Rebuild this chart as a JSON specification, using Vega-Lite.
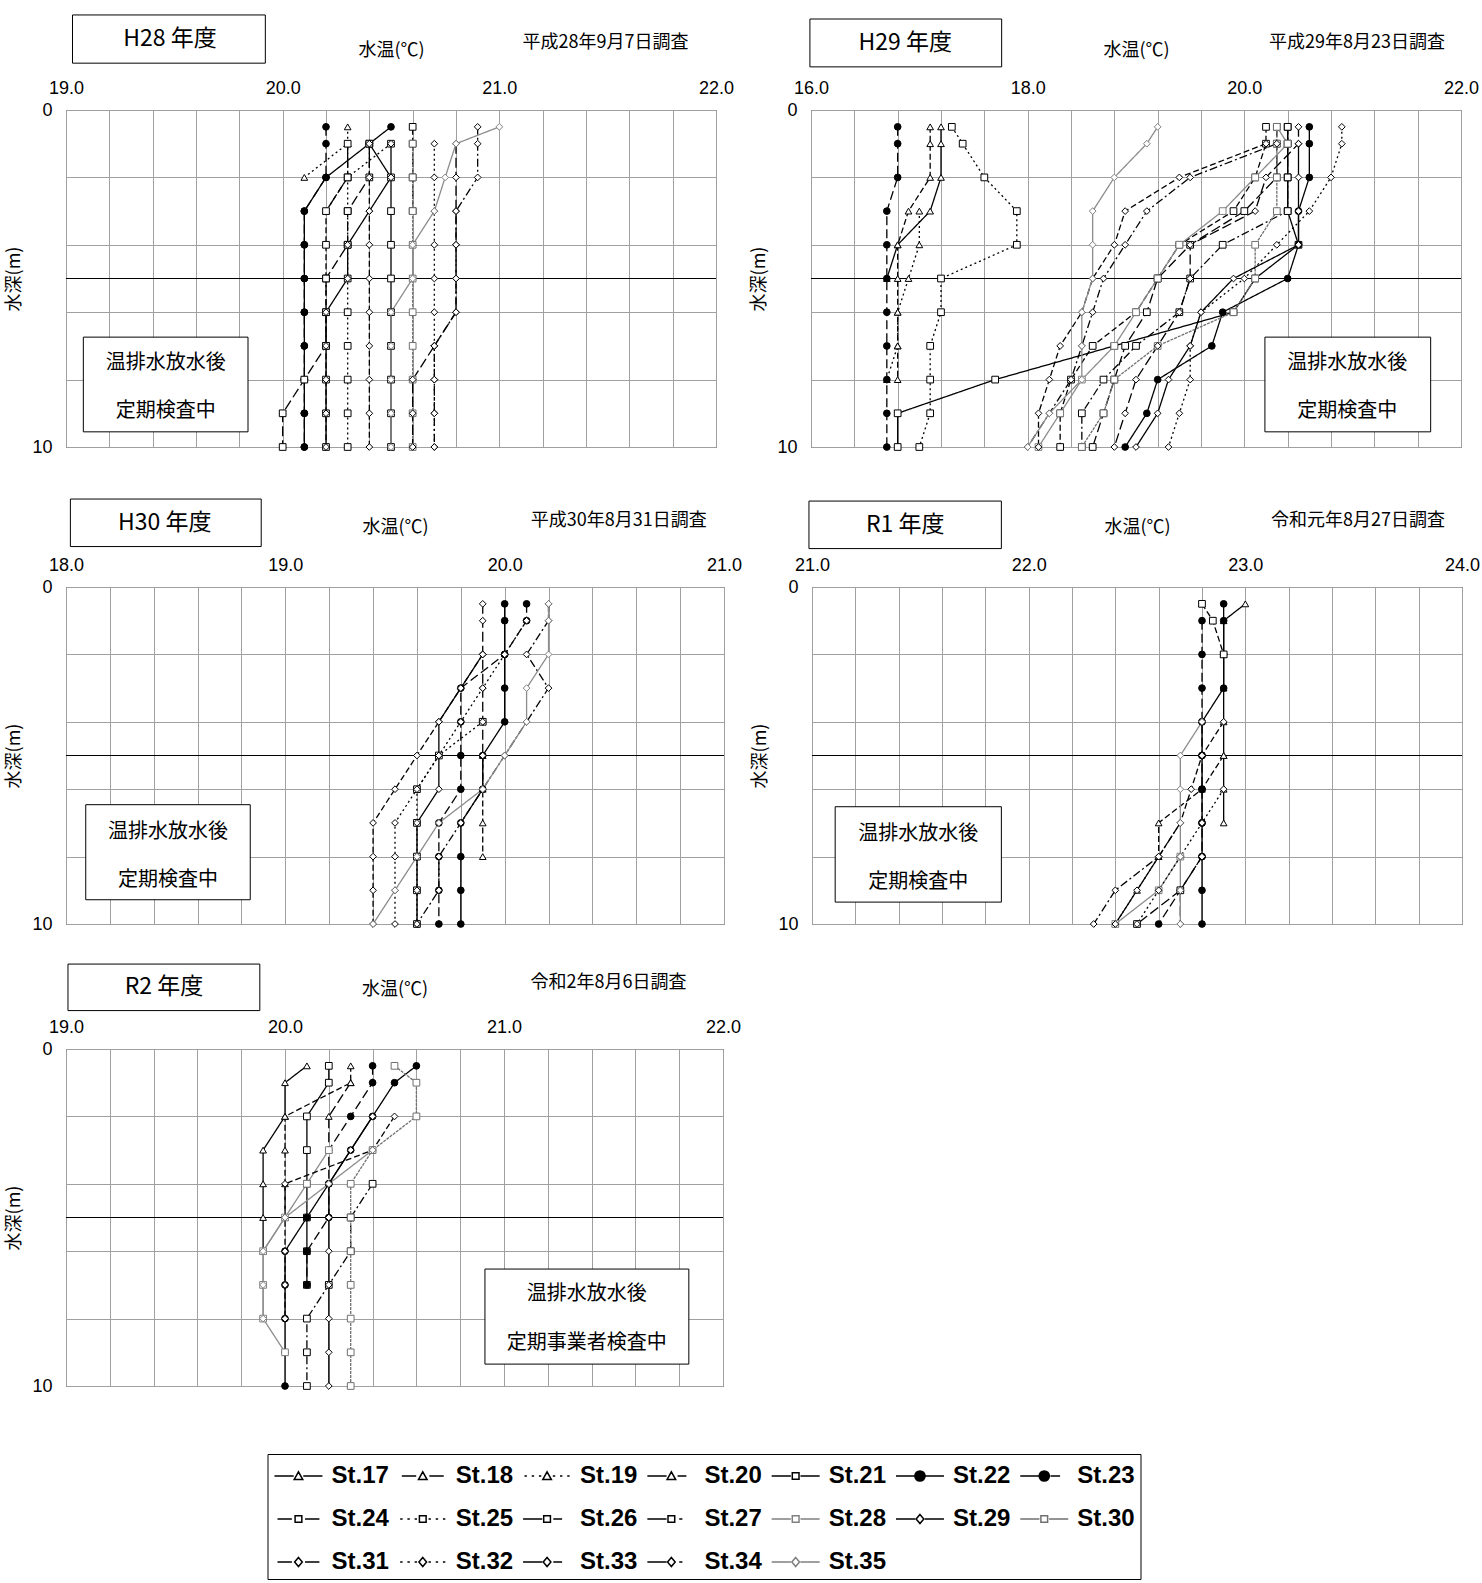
{
"$schema": "https://vega.github.io/schema/vega-lite/v6.json",
"background": "white",
"padding": {"left": 5, "top": 13, "right": 0, "bottom": 0},
"config": {
  "view": {"stroke": "#404040", "strokeWidth": 1},
  "axis": {"labelFont": "Liberation Sans", "labelFontSize": 18, "labelColor": "#000", "titleFont": "Noto Sans CJK JP", "titleFontSize": 18, "titleFontWeight": "normal", "titleColor": "#000", "gridColor": "#a0a0a0", "gridOpacity": 1, "gridWidth": 1, "ticks": false, "domain": false, "labelFlush": false, "labelOverlap": false},
  "text": {"font": "Noto Sans CJK JP", "color": "#000"}
},
"datasets": {"prof": [
{"p":"H28","s":"St.19","d":0.5,"t":20.3},{"p":"H28","s":"St.19","d":1,"t":20.3},{"p":"H28","s":"St.19","d":2,"t":20.1},
{"p":"H28","s":"St.20","d":1,"t":20.3},{"p":"H28","s":"St.20","d":2,"t":20.3},{"p":"H28","s":"St.20","d":3,"t":20.2},
{"p":"H28","s":"St.21","d":1,"t":20.4},{"p":"H28","s":"St.21","d":2,"t":20.5},{"p":"H28","s":"St.21","d":3,"t":20.5},{"p":"H28","s":"St.21","d":4,"t":20.5},{"p":"H28","s":"St.21","d":5,"t":20.5},{"p":"H28","s":"St.21","d":6,"t":20.5},{"p":"H28","s":"St.21","d":7,"t":20.5},{"p":"H28","s":"St.21","d":8,"t":20.5},{"p":"H28","s":"St.21","d":9,"t":20.5},{"p":"H28","s":"St.21","d":10,"t":20.5},
{"p":"H28","s":"St.22","d":0.5,"t":20.5},{"p":"H28","s":"St.22","d":1,"t":20.4},{"p":"H28","s":"St.22","d":2,"t":20.2},{"p":"H28","s":"St.22","d":3,"t":20.1},{"p":"H28","s":"St.22","d":4,"t":20.1},{"p":"H28","s":"St.22","d":5,"t":20.1},{"p":"H28","s":"St.22","d":6,"t":20.1},{"p":"H28","s":"St.22","d":7,"t":20.1},{"p":"H28","s":"St.22","d":8,"t":20.1},{"p":"H28","s":"St.22","d":9,"t":20.1},{"p":"H28","s":"St.22","d":10,"t":20.1},
{"p":"H28","s":"St.23","d":0.5,"t":20.2},{"p":"H28","s":"St.23","d":1,"t":20.2},{"p":"H28","s":"St.23","d":2,"t":20.2},{"p":"H28","s":"St.23","d":3,"t":20.1},{"p":"H28","s":"St.23","d":4,"t":20.1},{"p":"H28","s":"St.23","d":5,"t":20.1},{"p":"H28","s":"St.23","d":6,"t":20.1},{"p":"H28","s":"St.23","d":7,"t":20.1},{"p":"H28","s":"St.23","d":8,"t":20.1},{"p":"H28","s":"St.23","d":9,"t":20.1},{"p":"H28","s":"St.23","d":10,"t":20.1},
{"p":"H28","s":"St.24","d":1,"t":20.3},{"p":"H28","s":"St.24","d":2,"t":20.3},{"p":"H28","s":"St.24","d":3,"t":20.2},{"p":"H28","s":"St.24","d":4,"t":20.2},{"p":"H28","s":"St.24","d":5,"t":20.2},{"p":"H28","s":"St.24","d":6,"t":20.2},{"p":"H28","s":"St.24","d":7,"t":20.2},{"p":"H28","s":"St.24","d":8,"t":20.2},{"p":"H28","s":"St.24","d":9,"t":20.2},{"p":"H28","s":"St.24","d":10,"t":20.2},
{"p":"H28","s":"St.25","d":1,"t":20.5},{"p":"H28","s":"St.25","d":2,"t":20.3},{"p":"H28","s":"St.25","d":3,"t":20.3},{"p":"H28","s":"St.25","d":4,"t":20.3},{"p":"H28","s":"St.25","d":5,"t":20.3},{"p":"H28","s":"St.25","d":6,"t":20.3},{"p":"H28","s":"St.25","d":7,"t":20.3},{"p":"H28","s":"St.25","d":8,"t":20.3},{"p":"H28","s":"St.25","d":9,"t":20.3},{"p":"H28","s":"St.25","d":10,"t":20.3},
{"p":"H28","s":"St.26","d":1,"t":20.4},{"p":"H28","s":"St.26","d":2,"t":20.4},{"p":"H28","s":"St.26","d":3,"t":20.3},{"p":"H28","s":"St.26","d":4,"t":20.3},{"p":"H28","s":"St.26","d":5,"t":20.2},{"p":"H28","s":"St.26","d":6,"t":20.2},{"p":"H28","s":"St.26","d":7,"t":20.2},{"p":"H28","s":"St.26","d":8,"t":20.1},{"p":"H28","s":"St.26","d":9,"t":20.0},{"p":"H28","s":"St.26","d":10,"t":20.0},
{"p":"H28","s":"St.27","d":0.5,"t":20.6},{"p":"H28","s":"St.27","d":1,"t":20.6},{"p":"H28","s":"St.27","d":2,"t":20.6},{"p":"H28","s":"St.27","d":3,"t":20.6},
{"p":"H28","s":"St.29","d":1,"t":20.5},{"p":"H28","s":"St.29","d":2,"t":20.5},{"p":"H28","s":"St.29","d":3,"t":20.4},{"p":"H28","s":"St.29","d":4,"t":20.3},{"p":"H28","s":"St.29","d":5,"t":20.3},{"p":"H28","s":"St.29","d":6,"t":20.2},{"p":"H28","s":"St.29","d":7,"t":20.2},{"p":"H28","s":"St.29","d":8,"t":20.2},{"p":"H28","s":"St.29","d":9,"t":20.2},{"p":"H28","s":"St.29","d":10,"t":20.2},
{"p":"H28","s":"St.30","d":1,"t":20.6},{"p":"H28","s":"St.30","d":2,"t":20.6},{"p":"H28","s":"St.30","d":3,"t":20.6},{"p":"H28","s":"St.30","d":4,"t":20.6},{"p":"H28","s":"St.30","d":5,"t":20.6},{"p":"H28","s":"St.30","d":6,"t":20.6},{"p":"H28","s":"St.30","d":7,"t":20.6},{"p":"H28","s":"St.30","d":8,"t":20.6},{"p":"H28","s":"St.30","d":9,"t":20.6},{"p":"H28","s":"St.30","d":10,"t":20.6},
{"p":"H28","s":"St.31","d":1,"t":20.4},{"p":"H28","s":"St.31","d":2,"t":20.4},{"p":"H28","s":"St.31","d":3,"t":20.4},{"p":"H28","s":"St.31","d":4,"t":20.4},{"p":"H28","s":"St.31","d":5,"t":20.4},{"p":"H28","s":"St.31","d":6,"t":20.4},{"p":"H28","s":"St.31","d":7,"t":20.4},{"p":"H28","s":"St.31","d":8,"t":20.4},{"p":"H28","s":"St.31","d":9,"t":20.4},{"p":"H28","s":"St.31","d":10,"t":20.4},
{"p":"H28","s":"St.32","d":1,"t":20.7},{"p":"H28","s":"St.32","d":2,"t":20.7},{"p":"H28","s":"St.32","d":3,"t":20.7},{"p":"H28","s":"St.32","d":4,"t":20.7},{"p":"H28","s":"St.32","d":5,"t":20.7},{"p":"H28","s":"St.32","d":6,"t":20.7},{"p":"H28","s":"St.32","d":7,"t":20.7},{"p":"H28","s":"St.32","d":8,"t":20.7},{"p":"H28","s":"St.32","d":9,"t":20.7},{"p":"H28","s":"St.32","d":10,"t":20.7},
{"p":"H28","s":"St.33","d":1,"t":20.8},{"p":"H28","s":"St.33","d":2,"t":20.8},{"p":"H28","s":"St.33","d":3,"t":20.8},{"p":"H28","s":"St.33","d":4,"t":20.8},{"p":"H28","s":"St.33","d":5,"t":20.8},{"p":"H28","s":"St.33","d":6,"t":20.8},{"p":"H28","s":"St.33","d":7,"t":20.7},{"p":"H28","s":"St.33","d":8,"t":20.6},{"p":"H28","s":"St.33","d":9,"t":20.6},{"p":"H28","s":"St.33","d":10,"t":20.6},
{"p":"H28","s":"St.34","d":0.5,"t":20.9},{"p":"H28","s":"St.34","d":1,"t":20.9},{"p":"H28","s":"St.34","d":2,"t":20.9},{"p":"H28","s":"St.34","d":3,"t":20.8},{"p":"H28","s":"St.34","d":4,"t":20.8},{"p":"H28","s":"St.34","d":5,"t":20.8},{"p":"H28","s":"St.34","d":6,"t":20.8},{"p":"H28","s":"St.34","d":7,"t":20.7},{"p":"H28","s":"St.34","d":8,"t":20.7},{"p":"H28","s":"St.34","d":9,"t":20.7},{"p":"H28","s":"St.34","d":10,"t":20.7},
{"p":"H28","s":"St.35","d":0.5,"t":21.0},{"p":"H28","s":"St.35","d":1,"t":20.8},{"p":"H28","s":"St.35","d":2,"t":20.75},{"p":"H28","s":"St.35","d":3,"t":20.7},{"p":"H28","s":"St.35","d":4,"t":20.6},{"p":"H28","s":"St.35","d":5,"t":20.6},{"p":"H28","s":"St.35","d":6,"t":20.5},{"p":"H28","s":"St.35","d":7,"t":20.5},{"p":"H28","s":"St.35","d":8,"t":20.5},{"p":"H28","s":"St.35","d":9,"t":20.5},{"p":"H28","s":"St.35","d":10,"t":20.5},

{"p":"H29","s":"St.17","d":0.5,"t":17.2},{"p":"H29","s":"St.17","d":1,"t":17.2},{"p":"H29","s":"St.17","d":2,"t":17.2},{"p":"H29","s":"St.17","d":3,"t":17.1},{"p":"H29","s":"St.17","d":4,"t":16.8},{"p":"H29","s":"St.17","d":5,"t":16.7},
{"p":"H29","s":"St.18","d":0.5,"t":17.1},{"p":"H29","s":"St.18","d":1,"t":17.1},{"p":"H29","s":"St.18","d":2,"t":17.1},{"p":"H29","s":"St.18","d":3,"t":16.9},{"p":"H29","s":"St.18","d":4,"t":16.8},{"p":"H29","s":"St.18","d":5,"t":16.8},{"p":"H29","s":"St.18","d":6,"t":16.8},{"p":"H29","s":"St.18","d":7,"t":16.8},{"p":"H29","s":"St.18","d":8,"t":16.8},
{"p":"H29","s":"St.19","d":3,"t":17.0},{"p":"H29","s":"St.19","d":4,"t":17.0},{"p":"H29","s":"St.19","d":5,"t":16.9},{"p":"H29","s":"St.19","d":6,"t":16.8},{"p":"H29","s":"St.19","d":7,"t":16.8},{"p":"H29","s":"St.19","d":8,"t":16.7},
{"p":"H29","s":"St.21","d":0.5,"t":20.4},{"p":"H29","s":"St.21","d":1,"t":20.4},{"p":"H29","s":"St.21","d":2,"t":20.4},{"p":"H29","s":"St.21","d":3,"t":20.4},{"p":"H29","s":"St.21","d":4,"t":20.5},{"p":"H29","s":"St.21","d":5,"t":20.1},{"p":"H29","s":"St.21","d":6,"t":19.9},{"p":"H29","s":"St.21","d":7,"t":18.8},{"p":"H29","s":"St.21","d":8,"t":17.7},{"p":"H29","s":"St.21","d":9,"t":16.8},{"p":"H29","s":"St.21","d":10,"t":16.8},
{"p":"H29","s":"St.22","d":0.5,"t":20.6},{"p":"H29","s":"St.22","d":1,"t":20.6},{"p":"H29","s":"St.22","d":2,"t":20.6},{"p":"H29","s":"St.22","d":3,"t":20.5},{"p":"H29","s":"St.22","d":4,"t":20.5},{"p":"H29","s":"St.22","d":5,"t":20.4},{"p":"H29","s":"St.22","d":6,"t":19.8},{"p":"H29","s":"St.22","d":7,"t":19.7},{"p":"H29","s":"St.22","d":8,"t":19.2},{"p":"H29","s":"St.22","d":9,"t":19.1},{"p":"H29","s":"St.22","d":10,"t":18.9},
{"p":"H29","s":"St.23","d":0.5,"t":16.8},{"p":"H29","s":"St.23","d":1,"t":16.8},{"p":"H29","s":"St.23","d":2,"t":16.8},{"p":"H29","s":"St.23","d":3,"t":16.7},{"p":"H29","s":"St.23","d":4,"t":16.7},{"p":"H29","s":"St.23","d":5,"t":16.7},{"p":"H29","s":"St.23","d":6,"t":16.7},{"p":"H29","s":"St.23","d":7,"t":16.7},{"p":"H29","s":"St.23","d":8,"t":16.7},{"p":"H29","s":"St.23","d":9,"t":16.7},{"p":"H29","s":"St.23","d":10,"t":16.7},
{"p":"H29","s":"St.24","d":0.5,"t":20.2},{"p":"H29","s":"St.24","d":1,"t":20.2},{"p":"H29","s":"St.24","d":2,"t":20.1},{"p":"H29","s":"St.24","d":3,"t":19.9},{"p":"H29","s":"St.24","d":4,"t":19.4},{"p":"H29","s":"St.24","d":5,"t":19.2},{"p":"H29","s":"St.24","d":6,"t":19.0},{"p":"H29","s":"St.24","d":7,"t":18.6},{"p":"H29","s":"St.24","d":8,"t":18.4},{"p":"H29","s":"St.24","d":9,"t":18.3},{"p":"H29","s":"St.24","d":10,"t":18.3},
{"p":"H29","s":"St.25","d":0.5,"t":17.3},{"p":"H29","s":"St.25","d":1,"t":17.4},{"p":"H29","s":"St.25","d":2,"t":17.6},{"p":"H29","s":"St.25","d":3,"t":17.9},{"p":"H29","s":"St.25","d":4,"t":17.9},{"p":"H29","s":"St.25","d":5,"t":17.2},{"p":"H29","s":"St.25","d":6,"t":17.2},{"p":"H29","s":"St.25","d":7,"t":17.1},{"p":"H29","s":"St.25","d":8,"t":17.1},{"p":"H29","s":"St.25","d":9,"t":17.1},{"p":"H29","s":"St.25","d":10,"t":17.0},
{"p":"H29","s":"St.26","d":0.5,"t":20.3},{"p":"H29","s":"St.26","d":1,"t":20.3},{"p":"H29","s":"St.26","d":2,"t":20.3},{"p":"H29","s":"St.26","d":3,"t":20.0},{"p":"H29","s":"St.26","d":4,"t":19.5},{"p":"H29","s":"St.26","d":5,"t":19.2},{"p":"H29","s":"St.26","d":6,"t":19.1},{"p":"H29","s":"St.26","d":7,"t":18.9},{"p":"H29","s":"St.26","d":8,"t":18.8},{"p":"H29","s":"St.26","d":9,"t":18.7},{"p":"H29","s":"St.26","d":10,"t":18.6},
{"p":"H29","s":"St.27","d":0.5,"t":20.4},{"p":"H29","s":"St.27","d":1,"t":20.4},{"p":"H29","s":"St.27","d":2,"t":20.4},{"p":"H29","s":"St.27","d":3,"t":20.4},{"p":"H29","s":"St.27","d":4,"t":19.8},{"p":"H29","s":"St.27","d":5,"t":19.5},{"p":"H29","s":"St.27","d":6,"t":19.4},{"p":"H29","s":"St.27","d":7,"t":19.0},{"p":"H29","s":"St.27","d":8,"t":18.7},{"p":"H29","s":"St.27","d":9,"t":18.5},{"p":"H29","s":"St.27","d":10,"t":18.5},
{"p":"H29","s":"St.28","d":0.5,"t":20.3},{"p":"H29","s":"St.28","d":1,"t":20.4},{"p":"H29","s":"St.28","d":2,"t":20.1},{"p":"H29","s":"St.28","d":3,"t":19.8},{"p":"H29","s":"St.28","d":4,"t":19.4},{"p":"H29","s":"St.28","d":5,"t":19.2},{"p":"H29","s":"St.28","d":6,"t":19.0},{"p":"H29","s":"St.28","d":7,"t":18.8},{"p":"H29","s":"St.28","d":8,"t":18.5},{"p":"H29","s":"St.28","d":9,"t":18.3},{"p":"H29","s":"St.28","d":10,"t":18.1},
{"p":"H29","s":"St.29","d":1,"t":20.5},{"p":"H29","s":"St.29","d":2,"t":20.5},{"p":"H29","s":"St.29","d":3,"t":20.5},{"p":"H29","s":"St.29","d":4,"t":20.5},{"p":"H29","s":"St.29","d":5,"t":19.9},{"p":"H29","s":"St.29","d":6,"t":19.6},{"p":"H29","s":"St.29","d":7,"t":19.5},{"p":"H29","s":"St.29","d":8,"t":19.3},{"p":"H29","s":"St.29","d":9,"t":19.2},{"p":"H29","s":"St.29","d":10,"t":19.0},
{"p":"H29","s":"St.30","d":0.5,"t":20.3},{"p":"H29","s":"St.30","d":1,"t":20.3},{"p":"H29","s":"St.30","d":2,"t":20.3},{"p":"H29","s":"St.30","d":3,"t":20.3},{"p":"H29","s":"St.30","d":4,"t":20.1},{"p":"H29","s":"St.30","d":5,"t":20.1},{"p":"H29","s":"St.30","d":6,"t":19.9},{"p":"H29","s":"St.30","d":7,"t":19.2},{"p":"H29","s":"St.30","d":8,"t":18.8},{"p":"H29","s":"St.30","d":9,"t":18.7},{"p":"H29","s":"St.30","d":10,"t":18.5},
{"p":"H29","s":"St.31","d":1,"t":20.2},{"p":"H29","s":"St.31","d":2,"t":19.4},{"p":"H29","s":"St.31","d":3,"t":18.9},{"p":"H29","s":"St.31","d":4,"t":18.8},{"p":"H29","s":"St.31","d":5,"t":18.6},{"p":"H29","s":"St.31","d":6,"t":18.5},{"p":"H29","s":"St.31","d":7,"t":18.3},{"p":"H29","s":"St.31","d":8,"t":18.2},{"p":"H29","s":"St.31","d":9,"t":18.1},{"p":"H29","s":"St.31","d":10,"t":18.1},
{"p":"H29","s":"St.32","d":0.5,"t":20.9},{"p":"H29","s":"St.32","d":1,"t":20.9},{"p":"H29","s":"St.32","d":2,"t":20.8},{"p":"H29","s":"St.32","d":3,"t":20.6},{"p":"H29","s":"St.32","d":4,"t":20.3},{"p":"H29","s":"St.32","d":5,"t":20.0},{"p":"H29","s":"St.32","d":6,"t":19.6},{"p":"H29","s":"St.32","d":7,"t":19.5},{"p":"H29","s":"St.32","d":8,"t":19.5},{"p":"H29","s":"St.32","d":9,"t":19.4},{"p":"H29","s":"St.32","d":10,"t":19.3},
{"p":"H29","s":"St.33","d":0.5,"t":20.5},{"p":"H29","s":"St.33","d":1,"t":20.5},{"p":"H29","s":"St.33","d":2,"t":20.2},{"p":"H29","s":"St.33","d":3,"t":20.1},{"p":"H29","s":"St.33","d":4,"t":19.5},{"p":"H29","s":"St.33","d":5,"t":19.5},{"p":"H29","s":"St.33","d":6,"t":19.4},{"p":"H29","s":"St.33","d":7,"t":19.2},{"p":"H29","s":"St.33","d":8,"t":19.0},{"p":"H29","s":"St.33","d":9,"t":18.9},{"p":"H29","s":"St.33","d":10,"t":18.8},
{"p":"H29","s":"St.34","d":1,"t":20.3},{"p":"H29","s":"St.34","d":2,"t":19.5},{"p":"H29","s":"St.34","d":3,"t":19.1},{"p":"H29","s":"St.34","d":4,"t":18.9},{"p":"H29","s":"St.34","d":5,"t":18.7},{"p":"H29","s":"St.34","d":6,"t":18.6},{"p":"H29","s":"St.34","d":7,"t":18.5},{"p":"H29","s":"St.34","d":8,"t":18.4},{"p":"H29","s":"St.34","d":9,"t":18.2},{"p":"H29","s":"St.34","d":10,"t":18.0},
{"p":"H29","s":"St.35","d":0.5,"t":19.2},{"p":"H29","s":"St.35","d":1,"t":19.1},{"p":"H29","s":"St.35","d":2,"t":18.8},{"p":"H29","s":"St.35","d":3,"t":18.6},{"p":"H29","s":"St.35","d":4,"t":18.6},{"p":"H29","s":"St.35","d":5,"t":18.6},{"p":"H29","s":"St.35","d":6,"t":18.5},{"p":"H29","s":"St.35","d":7,"t":18.5},{"p":"H29","s":"St.35","d":8,"t":18.5},{"p":"H29","s":"St.35","d":9,"t":18.2},{"p":"H29","s":"St.35","d":10,"t":18.0},

{"p":"H30","s":"St.18","d":5,"t":19.9},{"p":"H30","s":"St.18","d":6,"t":19.9},{"p":"H30","s":"St.18","d":7,"t":19.9},{"p":"H30","s":"St.18","d":8,"t":19.9},
{"p":"H30","s":"St.22","d":0.5,"t":20.0},{"p":"H30","s":"St.22","d":1,"t":20.0},{"p":"H30","s":"St.22","d":2,"t":20.0},{"p":"H30","s":"St.22","d":3,"t":20.0},{"p":"H30","s":"St.22","d":4,"t":20.0},{"p":"H30","s":"St.22","d":5,"t":19.9},{"p":"H30","s":"St.22","d":6,"t":19.9},{"p":"H30","s":"St.22","d":7,"t":19.8},{"p":"H30","s":"St.22","d":8,"t":19.8},{"p":"H30","s":"St.22","d":9,"t":19.8},{"p":"H30","s":"St.22","d":10,"t":19.8},
{"p":"H30","s":"St.23","d":0.5,"t":20.1},{"p":"H30","s":"St.23","d":1,"t":20.1},{"p":"H30","s":"St.23","d":2,"t":20.0},{"p":"H30","s":"St.23","d":3,"t":19.8},{"p":"H30","s":"St.23","d":4,"t":19.8},{"p":"H30","s":"St.23","d":5,"t":19.8},{"p":"H30","s":"St.23","d":6,"t":19.8},{"p":"H30","s":"St.23","d":7,"t":19.7},{"p":"H30","s":"St.23","d":8,"t":19.7},{"p":"H30","s":"St.23","d":9,"t":19.7},{"p":"H30","s":"St.23","d":10,"t":19.7},
{"p":"H30","s":"St.25","d":4,"t":19.9},{"p":"H30","s":"St.25","d":5,"t":19.7},{"p":"H30","s":"St.25","d":6,"t":19.6},{"p":"H30","s":"St.25","d":7,"t":19.6},{"p":"H30","s":"St.25","d":8,"t":19.6},{"p":"H30","s":"St.25","d":9,"t":19.6},{"p":"H30","s":"St.25","d":10,"t":19.6},
{"p":"H30","s":"St.29","d":2,"t":19.9},{"p":"H30","s":"St.29","d":3,"t":19.8},{"p":"H30","s":"St.29","d":4,"t":19.7},{"p":"H30","s":"St.29","d":5,"t":19.7},{"p":"H30","s":"St.29","d":6,"t":19.7},{"p":"H30","s":"St.29","d":7,"t":19.6},{"p":"H30","s":"St.29","d":8,"t":19.6},{"p":"H30","s":"St.29","d":9,"t":19.6},{"p":"H30","s":"St.29","d":10,"t":19.6},
{"p":"H30","s":"St.31","d":2,"t":19.9},{"p":"H30","s":"St.31","d":3,"t":19.8},{"p":"H30","s":"St.31","d":4,"t":19.7},{"p":"H30","s":"St.31","d":5,"t":19.6},{"p":"H30","s":"St.31","d":6,"t":19.5},{"p":"H30","s":"St.31","d":7,"t":19.4},{"p":"H30","s":"St.31","d":8,"t":19.4},{"p":"H30","s":"St.31","d":9,"t":19.4},{"p":"H30","s":"St.31","d":10,"t":19.4},
{"p":"H30","s":"St.32","d":1,"t":20.1},{"p":"H30","s":"St.32","d":2,"t":20.0},{"p":"H30","s":"St.32","d":3,"t":19.9},{"p":"H30","s":"St.32","d":4,"t":19.8},{"p":"H30","s":"St.32","d":5,"t":19.7},{"p":"H30","s":"St.32","d":6,"t":19.6},{"p":"H30","s":"St.32","d":7,"t":19.5},{"p":"H30","s":"St.32","d":8,"t":19.5},{"p":"H30","s":"St.32","d":9,"t":19.5},{"p":"H30","s":"St.32","d":10,"t":19.5},
{"p":"H30","s":"St.33","d":0.5,"t":19.9},{"p":"H30","s":"St.33","d":1,"t":19.9},{"p":"H30","s":"St.33","d":2,"t":19.9},{"p":"H30","s":"St.33","d":3,"t":19.9},{"p":"H30","s":"St.33","d":4,"t":19.9},{"p":"H30","s":"St.33","d":5,"t":19.9},{"p":"H30","s":"St.33","d":6,"t":19.9},
{"p":"H30","s":"St.34","d":0.5,"t":20.2},{"p":"H30","s":"St.34","d":1,"t":20.2},{"p":"H30","s":"St.34","d":2,"t":20.1},{"p":"H30","s":"St.34","d":3,"t":20.2},{"p":"H30","s":"St.34","d":4,"t":20.1},{"p":"H30","s":"St.34","d":5,"t":20.0},{"p":"H30","s":"St.34","d":6,"t":19.9},{"p":"H30","s":"St.34","d":7,"t":19.8},{"p":"H30","s":"St.34","d":8,"t":19.7},{"p":"H30","s":"St.34","d":9,"t":19.7},{"p":"H30","s":"St.34","d":10,"t":19.6},
{"p":"H30","s":"St.35","d":0.5,"t":20.2},{"p":"H30","s":"St.35","d":1,"t":20.2},{"p":"H30","s":"St.35","d":2,"t":20.2},{"p":"H30","s":"St.35","d":3,"t":20.1},{"p":"H30","s":"St.35","d":4,"t":20.1},{"p":"H30","s":"St.35","d":5,"t":20.0},{"p":"H30","s":"St.35","d":6,"t":19.9},{"p":"H30","s":"St.35","d":7,"t":19.7},{"p":"H30","s":"St.35","d":8,"t":19.6},{"p":"H30","s":"St.35","d":9,"t":19.5},{"p":"H30","s":"St.35","d":10,"t":19.4},

{"p":"R1","s":"St.17","d":0.5,"t":23.0},{"p":"R1","s":"St.17","d":1,"t":22.9},{"p":"R1","s":"St.17","d":2,"t":22.9},{"p":"R1","s":"St.17","d":3,"t":22.9},{"p":"R1","s":"St.17","d":4,"t":22.9},{"p":"R1","s":"St.17","d":5,"t":22.9},{"p":"R1","s":"St.17","d":6,"t":22.9},{"p":"R1","s":"St.17","d":7,"t":22.9},
{"p":"R1","s":"St.18","d":5,"t":22.9},{"p":"R1","s":"St.18","d":6,"t":22.8},{"p":"R1","s":"St.18","d":7,"t":22.6},{"p":"R1","s":"St.18","d":8,"t":22.6},{"p":"R1","s":"St.18","d":9,"t":22.5},{"p":"R1","s":"St.18","d":10,"t":22.4},
{"p":"R1","s":"St.22","d":0.5,"t":22.9},{"p":"R1","s":"St.22","d":1,"t":22.9},{"p":"R1","s":"St.22","d":2,"t":22.9},{"p":"R1","s":"St.22","d":3,"t":22.9},{"p":"R1","s":"St.22","d":4,"t":22.8},{"p":"R1","s":"St.22","d":5,"t":22.8},{"p":"R1","s":"St.22","d":6,"t":22.8},{"p":"R1","s":"St.22","d":7,"t":22.8},{"p":"R1","s":"St.22","d":8,"t":22.8},{"p":"R1","s":"St.22","d":9,"t":22.8},{"p":"R1","s":"St.22","d":10,"t":22.8},
{"p":"R1","s":"St.23","d":1,"t":22.8},{"p":"R1","s":"St.23","d":2,"t":22.8},{"p":"R1","s":"St.23","d":3,"t":22.8},{"p":"R1","s":"St.23","d":4,"t":22.8},{"p":"R1","s":"St.23","d":5,"t":22.8},{"p":"R1","s":"St.23","d":6,"t":22.8},{"p":"R1","s":"St.23","d":7,"t":22.8},{"p":"R1","s":"St.23","d":8,"t":22.8},{"p":"R1","s":"St.23","d":9,"t":22.7},{"p":"R1","s":"St.23","d":10,"t":22.6},
{"p":"R1","s":"St.24","d":0.5,"t":22.8},{"p":"R1","s":"St.24","d":1,"t":22.85},{"p":"R1","s":"St.24","d":2,"t":22.9},
{"p":"R1","s":"St.26","d":9,"t":22.7},{"p":"R1","s":"St.26","d":10,"t":22.5},
{"p":"R1","s":"St.28","d":8,"t":22.7},{"p":"R1","s":"St.28","d":9,"t":22.6},{"p":"R1","s":"St.28","d":10,"t":22.4},
{"p":"R1","s":"St.31","d":4,"t":22.9},{"p":"R1","s":"St.31","d":5,"t":22.8},{"p":"R1","s":"St.31","d":6,"t":22.75},{"p":"R1","s":"St.31","d":7,"t":22.7},{"p":"R1","s":"St.31","d":8,"t":22.6},{"p":"R1","s":"St.31","d":9,"t":22.5},{"p":"R1","s":"St.31","d":10,"t":22.4},
{"p":"R1","s":"St.32","d":6,"t":22.9},{"p":"R1","s":"St.32","d":7,"t":22.8},{"p":"R1","s":"St.32","d":8,"t":22.7},{"p":"R1","s":"St.32","d":9,"t":22.6},{"p":"R1","s":"St.32","d":10,"t":22.5},
{"p":"R1","s":"St.33","d":8,"t":22.8},{"p":"R1","s":"St.33","d":9,"t":22.7},{"p":"R1","s":"St.33","d":10,"t":22.7},
{"p":"R1","s":"St.34","d":7,"t":22.7},{"p":"R1","s":"St.34","d":8,"t":22.6},{"p":"R1","s":"St.34","d":9,"t":22.4},{"p":"R1","s":"St.34","d":10,"t":22.3},
{"p":"R1","s":"St.35","d":4,"t":22.8},{"p":"R1","s":"St.35","d":5,"t":22.7},{"p":"R1","s":"St.35","d":6,"t":22.7},{"p":"R1","s":"St.35","d":7,"t":22.7},{"p":"R1","s":"St.35","d":8,"t":22.7},{"p":"R1","s":"St.35","d":9,"t":22.7},{"p":"R1","s":"St.35","d":10,"t":22.7},

{"p":"R2","s":"St.17","d":0.5,"t":20.1},{"p":"R2","s":"St.17","d":1,"t":20.0},{"p":"R2","s":"St.17","d":2,"t":20.0},{"p":"R2","s":"St.17","d":3,"t":19.9},{"p":"R2","s":"St.17","d":4,"t":19.9},{"p":"R2","s":"St.17","d":5,"t":19.9},{"p":"R2","s":"St.17","d":6,"t":19.9},
{"p":"R2","s":"St.18","d":0.5,"t":20.3},{"p":"R2","s":"St.18","d":1,"t":20.3},{"p":"R2","s":"St.18","d":2,"t":20.0},{"p":"R2","s":"St.18","d":3,"t":20.0},{"p":"R2","s":"St.18","d":4,"t":20.0},{"p":"R2","s":"St.18","d":5,"t":20.0},
{"p":"R2","s":"St.20","d":1,"t":20.3},{"p":"R2","s":"St.20","d":2,"t":20.2},{"p":"R2","s":"St.20","d":3,"t":20.2},
{"p":"R2","s":"St.21","d":0.5,"t":20.2},{"p":"R2","s":"St.21","d":1,"t":20.2},{"p":"R2","s":"St.21","d":2,"t":20.1},{"p":"R2","s":"St.21","d":3,"t":20.1},{"p":"R2","s":"St.21","d":4,"t":20.1},{"p":"R2","s":"St.21","d":5,"t":20.1},{"p":"R2","s":"St.21","d":6,"t":20.1},{"p":"R2","s":"St.21","d":7,"t":20.1},
{"p":"R2","s":"St.22","d":0.5,"t":20.6},{"p":"R2","s":"St.22","d":1,"t":20.5},{"p":"R2","s":"St.22","d":2,"t":20.4},{"p":"R2","s":"St.22","d":3,"t":20.3},{"p":"R2","s":"St.22","d":4,"t":20.2},{"p":"R2","s":"St.22","d":5,"t":20.1},{"p":"R2","s":"St.22","d":6,"t":20.0},{"p":"R2","s":"St.22","d":7,"t":20.0},{"p":"R2","s":"St.22","d":8,"t":20.0},{"p":"R2","s":"St.22","d":9,"t":20.0},{"p":"R2","s":"St.22","d":10,"t":20.0},
{"p":"R2","s":"St.23","d":0.5,"t":20.4},{"p":"R2","s":"St.23","d":1,"t":20.4},{"p":"R2","s":"St.23","d":2,"t":20.3},{"p":"R2","s":"St.23","d":3,"t":20.2},{"p":"R2","s":"St.23","d":4,"t":20.2},{"p":"R2","s":"St.23","d":5,"t":20.2},{"p":"R2","s":"St.23","d":6,"t":20.1},{"p":"R2","s":"St.23","d":7,"t":20.1},
{"p":"R2","s":"St.27","d":4,"t":20.4},{"p":"R2","s":"St.27","d":5,"t":20.3},{"p":"R2","s":"St.27","d":6,"t":20.3},{"p":"R2","s":"St.27","d":7,"t":20.2},{"p":"R2","s":"St.27","d":8,"t":20.1},{"p":"R2","s":"St.27","d":9,"t":20.1},{"p":"R2","s":"St.27","d":10,"t":20.1},
{"p":"R2","s":"St.28","d":3,"t":20.2},{"p":"R2","s":"St.28","d":4,"t":20.1},{"p":"R2","s":"St.28","d":5,"t":20.0},{"p":"R2","s":"St.28","d":6,"t":19.9},{"p":"R2","s":"St.28","d":7,"t":19.9},{"p":"R2","s":"St.28","d":8,"t":19.9},{"p":"R2","s":"St.28","d":9,"t":20.0},
{"p":"R2","s":"St.29","d":2,"t":20.4},{"p":"R2","s":"St.29","d":3,"t":20.3},{"p":"R2","s":"St.29","d":4,"t":20.2},{"p":"R2","s":"St.29","d":5,"t":20.2},{"p":"R2","s":"St.29","d":6,"t":20.2},{"p":"R2","s":"St.29","d":7,"t":20.2},{"p":"R2","s":"St.29","d":8,"t":20.2},{"p":"R2","s":"St.29","d":9,"t":20.2},{"p":"R2","s":"St.29","d":10,"t":20.2},
{"p":"R2","s":"St.30","d":0.5,"t":20.5},{"p":"R2","s":"St.30","d":1,"t":20.6},{"p":"R2","s":"St.30","d":2,"t":20.6},{"p":"R2","s":"St.30","d":3,"t":20.4},{"p":"R2","s":"St.30","d":4,"t":20.3},{"p":"R2","s":"St.30","d":5,"t":20.3},{"p":"R2","s":"St.30","d":6,"t":20.3},{"p":"R2","s":"St.30","d":7,"t":20.3},{"p":"R2","s":"St.30","d":8,"t":20.3},{"p":"R2","s":"St.30","d":9,"t":20.3},{"p":"R2","s":"St.30","d":10,"t":20.3},
{"p":"R2","s":"St.31","d":2,"t":20.5},{"p":"R2","s":"St.31","d":3,"t":20.4},{"p":"R2","s":"St.31","d":4,"t":20.0},{"p":"R2","s":"St.31","d":5,"t":20.0},{"p":"R2","s":"St.31","d":6,"t":20.0},{"p":"R2","s":"St.31","d":7,"t":20.0},{"p":"R2","s":"St.31","d":8,"t":20.0},
{"p":"R2","s":"St.35","d":3,"t":20.4},{"p":"R2","s":"St.35","d":4,"t":20.2},{"p":"R2","s":"St.35","d":5,"t":20.0},{"p":"R2","s":"St.35","d":6,"t":19.9},{"p":"R2","s":"St.35","d":7,"t":19.9},{"p":"R2","s":"St.35","d":8,"t":19.9}
]},
"resolve": {"scale": {"shape": "independent", "fill": "independent", "stroke": "independent", "size": "independent", "strokeWidth": "independent", "color": "independent", "strokeDash": "independent"}},
"spacing": 20,
"vconcat": [
{"spacing": 29, "vconcat": [
{"spacing": 41, "vconcat": [
{"spacing": 15, "hconcat": [
{"width": 650, "height": 337, "data": {"name": "prof"},
 "layer": [
  {"data": {"values": [{}]}, "mark": {"type": "rule", "color": "#000", "strokeWidth": 1}, "encoding": {"y": {"datum": 5, "type": "quantitative"}}},
  {"transform": [{"filter": "datum.p === 'H28'"}], "mark": {"type": "line"},
   "encoding": {
    "x": {"field": "t", "type": "quantitative", "scale": {"domain": [19, 22], "nice": false, "zero": false}, "axis": {"orient": "top", "values": [19,19.2,19.4,19.6,19.8,20,20.2,20.4,20.6,20.8,21,21.2,21.4,21.6,21.8,22], "labelExpr": "datum.value == round(datum.value) ? format(datum.value, '.1f') : ''", "labelPadding": 13, "title": "水温(℃)", "titlePadding": 20, "grid": true}},
    "y": {"field": "d", "type": "quantitative", "scale": {"domain": [0, 10], "reverse": true, "nice": false, "zero": false}, "axis": {"values": [0,1,2,3,4,5,6,7,8,9,10], "labelExpr": "datum.value % 5 == 0 ? datum.label : ''", "labelPadding": 14, "title": "水深(m)", "titlePadding": 8, "grid": true}},
    "order": {"field": "d", "type": "quantitative"},
    "color": {"field": "s", "type": "nominal", "scale": {"domain": ["St.17","St.18","St.19","St.20","St.21","St.22","St.23","St.24","St.25","St.26","St.27","St.28","St.29","St.30","St.31","St.32","St.33","St.34","St.35"], "range": ["#000","#000","#000","#000","#000","#000","#000","#000","#000","#000","#000","#8c8c8c","#000","#707070","#000","#000","#000","#000","#8c8c8c"]}, "legend": null},
    "strokeDash": {"field": "s", "type": "nominal", "scale": {"domain": ["St.17","St.18","St.19","St.20","St.21","St.22","St.23","St.24","St.25","St.26","St.27","St.28","St.29","St.30","St.31","St.32","St.33","St.34","St.35"], "range": [[1,0],[6,3],[2,3],[10,4],[1,0],[1,0],[9,4],[6,3],[2,3],[10,4],[8,3,2,3],[1,0],[1,0],[3,1],[6,3],[2,3],[10,4],[8,3,2,3],[1,0]]}, "legend": null},
    "strokeWidth": {"field": "s", "type": "nominal", "scale": {"domain": ["St.17","St.18","St.19","St.20","St.21","St.22","St.23","St.24","St.25","St.26","St.27","St.28","St.29","St.30","St.31","St.32","St.33","St.34","St.35"], "range": [1.3,1.3,1.3,1.3,1.3,3,3,1.3,1.3,1.3,1.3,1.6,1.3,1.8,1.3,1.3,1.3,1.3,1.6]}, "legend": null}
   }},
  {"transform": [{"filter": "datum.p === 'H28'"}], "mark": {"type": "point", "filled": true, "opacity": 1, "strokeWidth": 1},
   "encoding": {
    "x": {"field": "t", "type": "quantitative"},
    "y": {"field": "d", "type": "quantitative"},
    "shape": {"field": "s", "type": "nominal", "scale": {"domain": ["St.17","St.18","St.19","St.20","St.21","St.22","St.23","St.24","St.25","St.26","St.27","St.28","St.29","St.30","St.31","St.32","St.33","St.34","St.35"], "range": ["triangle-up","triangle-up","triangle-up","triangle-up","square","circle","circle","square","square","square","square","square","diamond","square","diamond","diamond","diamond","diamond","diamond"]}, "legend": null},
    "fill": {"field": "s", "type": "nominal", "scale": {"domain": ["St.17","St.18","St.19","St.20","St.21","St.22","St.23","St.24","St.25","St.26","St.27","St.28","St.29","St.30","St.31","St.32","St.33","St.34","St.35"], "range": ["#fff","#fff","#fff","#fff","#fff","#000","#000","#fff","#fff","#fff","#fff","#fff","#fff","#fff","#fff","#fff","#fff","#fff","#fff"]}, "legend": null},
    "stroke": {"field": "s", "type": "nominal", "scale": {"domain": ["St.17","St.18","St.19","St.20","St.21","St.22","St.23","St.24","St.25","St.26","St.27","St.28","St.29","St.30","St.31","St.32","St.33","St.34","St.35"], "range": ["#000","#000","#000","#000","#000","#000","#000","#000","#000","#000","#000","#808080","#000","#707070","#000","#000","#000","#000","#808080"]}, "legend": null},
    "size": {"field": "s", "type": "nominal", "scale": {"domain": ["St.17","St.18","St.19","St.20","St.21","St.22","St.23","St.24","St.25","St.26","St.27","St.28","St.29","St.30","St.31","St.32","St.33","St.34","St.35"], "range": [45,45,45,45,40,80,80,40,40,40,40,40,50,40,50,50,50,50,50]}, "legend": null}
   }},
  {"data": {"values": [{}]}, "mark": {"type": "rect", "fill": "#fff", "stroke": "#000", "strokeWidth": 1}, "encoding": {"x": {"datum": 19.03, "type": "quantitative"}, "x2": {"datum": 19.92}, "y": {"datum": -2.82, "type": "quantitative"}, "y2": {"datum": -1.39}}},
  {"data": {"values": [{}]}, "mark": {"type": "text", "text": "H28 年度", "fontSize": 23}, "encoding": {"x": {"datum": 19.48, "type": "quantitative"}, "y": {"datum": -2.1, "type": "quantitative"}}},
  {"data": {"values": [{}]}, "mark": {"type": "text", "text": "平成28年9月7日調査", "fontSize": 18}, "encoding": {"x": {"datum": 21.49, "type": "quantitative"}, "y": {"datum": -1.98, "type": "quantitative"}}},
  {"data": {"values": [{}]}, "mark": {"type": "rect", "fill": "#fff", "stroke": "#000", "strokeWidth": 1}, "encoding": {"x": {"datum": 19.08, "type": "quantitative"}, "x2": {"datum": 19.84}, "y": {"datum": 6.74, "type": "quantitative"}, "y2": {"datum": 9.55}}},
  {"data": {"values": [{}]}, "mark": {"type": "text", "text": "温排水放水後", "fontSize": 20}, "encoding": {"x": {"datum": 19.46, "type": "quantitative"}, "y": {"datum": 7.5, "type": "quantitative"}}},
  {"data": {"values": [{}]}, "mark": {"type": "text", "text": "定期検査中", "fontSize": 20}, "encoding": {"x": {"datum": 19.46, "type": "quantitative"}, "y": {"datum": 8.93, "type": "quantitative"}}}
 ]},
{"width": 650, "height": 337, "data": {"name": "prof"},
 "layer": [
  {"data": {"values": [{}]}, "mark": {"type": "rule", "color": "#000", "strokeWidth": 1}, "encoding": {"y": {"datum": 5, "type": "quantitative"}}},
  {"transform": [{"filter": "datum.p === 'H29'"}], "mark": {"type": "line"},
   "encoding": {
    "x": {"field": "t", "type": "quantitative", "scale": {"domain": [16, 22], "nice": false, "zero": false}, "axis": {"orient": "top", "values": [16,16.2,16.4,16.6,16.8,17,17.2,17.4,17.6,17.8,18,18.2,18.4,18.6,18.8,19,19.2,19.4,19.6,19.8,20,20.2,20.4,20.6,20.8,21,21.2,21.4,21.6,21.8,22], "labelExpr": "datum.value == round(datum.value) ? format(datum.value, '.1f') : ''", "labelPadding": 13, "title": "水温(℃)", "titlePadding": 20, "grid": true}},
    "y": {"field": "d", "type": "quantitative", "scale": {"domain": [0, 10], "reverse": true, "nice": false, "zero": false}, "axis": {"values": [0,1,2,3,4,5,6,7,8,9,10], "labelExpr": "datum.value % 5 == 0 ? datum.label : ''", "labelPadding": 14, "title": "水深(m)", "titlePadding": 8, "grid": true}},
    "order": {"field": "d", "type": "quantitative"},
    "color": {"field": "s", "type": "nominal", "legend": null},
    "strokeDash": {"field": "s", "type": "nominal", "legend": null},
    "strokeWidth": {"field": "s", "type": "nominal", "legend": null}
   }},
  {"transform": [{"filter": "datum.p === 'H29'"}], "mark": {"type": "point", "filled": true, "opacity": 1, "strokeWidth": 1},
   "encoding": {
    "x": {"field": "t", "type": "quantitative"},
    "y": {"field": "d", "type": "quantitative"},
    "shape": {"field": "s", "type": "nominal", "legend": null},
    "fill": {"field": "s", "type": "nominal", "legend": null},
    "stroke": {"field": "s", "type": "nominal", "legend": null},
    "size": {"field": "s", "type": "nominal", "legend": null}
   }},
  {"data": {"values": [{}]}, "mark": {"type": "rect", "fill": "#fff", "stroke": "#000", "strokeWidth": 1}, "encoding": {"x": {"datum": 15.99, "type": "quantitative"}, "x2": {"datum": 17.76}, "y": {"datum": -2.7, "type": "quantitative"}, "y2": {"datum": -1.28}}},
  {"data": {"values": [{}]}, "mark": {"type": "text", "text": "H29 年度", "fontSize": 23}, "encoding": {"x": {"datum": 16.87, "type": "quantitative"}, "y": {"datum": -1.99, "type": "quantitative"}}},
  {"data": {"values": [{}]}, "mark": {"type": "text", "text": "平成29年8月23日調査", "fontSize": 18}, "encoding": {"x": {"datum": 21.04, "type": "quantitative"}, "y": {"datum": -1.98, "type": "quantitative"}}},
  {"data": {"values": [{}]}, "mark": {"type": "rect", "fill": "#fff", "stroke": "#000", "strokeWidth": 1}, "encoding": {"x": {"datum": 20.19, "type": "quantitative"}, "x2": {"datum": 21.72}, "y": {"datum": 6.74, "type": "quantitative"}, "y2": {"datum": 9.55}}},
  {"data": {"values": [{}]}, "mark": {"type": "text", "text": "温排水放水後", "fontSize": 20}, "encoding": {"x": {"datum": 20.95, "type": "quantitative"}, "y": {"datum": 7.5, "type": "quantitative"}}},
  {"data": {"values": [{}]}, "mark": {"type": "text", "text": "定期検査中", "fontSize": 20}, "encoding": {"x": {"datum": 20.95, "type": "quantitative"}, "y": {"datum": 8.93, "type": "quantitative"}}}
 ]}
]},
{"spacing": 8, "hconcat": [
{"width": 658, "height": 337, "data": {"name": "prof"},
 "layer": [
  {"data": {"values": [{}]}, "mark": {"type": "rule", "color": "#000", "strokeWidth": 1}, "encoding": {"y": {"datum": 5, "type": "quantitative"}}},
  {"transform": [{"filter": "datum.p === 'H30'"}], "mark": {"type": "line"},
   "encoding": {
    "x": {"field": "t", "type": "quantitative", "scale": {"domain": [18, 21], "nice": false, "zero": false}, "axis": {"orient": "top", "values": [18,18.2,18.4,18.6,18.8,19,19.2,19.4,19.6,19.8,20,20.2,20.4,20.6,20.8,21], "labelExpr": "datum.value == round(datum.value) ? format(datum.value, '.1f') : ''", "labelPadding": 13, "title": "水温(℃)", "titlePadding": 20, "grid": true}},
    "y": {"field": "d", "type": "quantitative", "scale": {"domain": [0, 10], "reverse": true, "nice": false, "zero": false}, "axis": {"values": [0,1,2,3,4,5,6,7,8,9,10], "labelExpr": "datum.value % 5 == 0 ? datum.label : ''", "labelPadding": 14, "title": "水深(m)", "titlePadding": 8, "grid": true}},
    "order": {"field": "d", "type": "quantitative"},
    "color": {"field": "s", "type": "nominal", "legend": null},
    "strokeDash": {"field": "s", "type": "nominal", "legend": null},
    "strokeWidth": {"field": "s", "type": "nominal", "legend": null}
   }},
  {"transform": [{"filter": "datum.p === 'H30'"}], "mark": {"type": "point", "filled": true, "opacity": 1, "strokeWidth": 1},
   "encoding": {
    "x": {"field": "t", "type": "quantitative"},
    "y": {"field": "d", "type": "quantitative"},
    "shape": {"field": "s", "type": "nominal", "legend": null},
    "fill": {"field": "s", "type": "nominal", "legend": null},
    "stroke": {"field": "s", "type": "nominal", "legend": null},
    "size": {"field": "s", "type": "nominal", "legend": null}
   }},
  {"data": {"values": [{}]}, "mark": {"type": "rect", "fill": "#fff", "stroke": "#000", "strokeWidth": 1}, "encoding": {"x": {"datum": 18.02, "type": "quantitative"}, "x2": {"datum": 18.89}, "y": {"datum": -2.61, "type": "quantitative"}, "y2": {"datum": -1.2}}},
  {"data": {"values": [{}]}, "mark": {"type": "text", "text": "H30 年度", "fontSize": 23}, "encoding": {"x": {"datum": 18.45, "type": "quantitative"}, "y": {"datum": -1.9, "type": "quantitative"}}},
  {"data": {"values": [{}]}, "mark": {"type": "text", "text": "平成30年8月31日調査", "fontSize": 18}, "encoding": {"x": {"datum": 20.52, "type": "quantitative"}, "y": {"datum": -1.95, "type": "quantitative"}}},
  {"data": {"values": [{}]}, "mark": {"type": "rect", "fill": "#fff", "stroke": "#000", "strokeWidth": 1}, "encoding": {"x": {"datum": 18.09, "type": "quantitative"}, "x2": {"datum": 18.84}, "y": {"datum": 6.46, "type": "quantitative"}, "y2": {"datum": 9.28}}},
  {"data": {"values": [{}]}, "mark": {"type": "text", "text": "温排水放水後", "fontSize": 20}, "encoding": {"x": {"datum": 18.465, "type": "quantitative"}, "y": {"datum": 7.27, "type": "quantitative"}}},
  {"data": {"values": [{}]}, "mark": {"type": "text", "text": "定期検査中", "fontSize": 20}, "encoding": {"x": {"datum": 18.465, "type": "quantitative"}, "y": {"datum": 8.68, "type": "quantitative"}}}
 ]},
{"width": 650, "height": 337, "data": {"name": "prof"},
 "layer": [
  {"data": {"values": [{}]}, "mark": {"type": "rule", "color": "#000", "strokeWidth": 1}, "encoding": {"y": {"datum": 5, "type": "quantitative"}}},
  {"transform": [{"filter": "datum.p === 'R1'"}], "mark": {"type": "line"},
   "encoding": {
    "x": {"field": "t", "type": "quantitative", "scale": {"domain": [21, 24], "nice": false, "zero": false}, "axis": {"orient": "top", "values": [21,21.2,21.4,21.6,21.8,22,22.2,22.4,22.6,22.8,23,23.2,23.4,23.6,23.8,24], "labelExpr": "datum.value == round(datum.value) ? format(datum.value, '.1f') : ''", "labelPadding": 13, "title": "水温(℃)", "titlePadding": 20, "grid": true}},
    "y": {"field": "d", "type": "quantitative", "scale": {"domain": [0, 10], "reverse": true, "nice": false, "zero": false}, "axis": {"values": [0,1,2,3,4,5,6,7,8,9,10], "labelExpr": "datum.value % 5 == 0 ? datum.label : ''", "labelPadding": 14, "title": "水深(m)", "titlePadding": 8, "grid": true}},
    "order": {"field": "d", "type": "quantitative"},
    "color": {"field": "s", "type": "nominal", "legend": null},
    "strokeDash": {"field": "s", "type": "nominal", "legend": null},
    "strokeWidth": {"field": "s", "type": "nominal", "legend": null}
   }},
  {"transform": [{"filter": "datum.p === 'R1'"}], "mark": {"type": "point", "filled": true, "opacity": 1, "strokeWidth": 1},
   "encoding": {
    "x": {"field": "t", "type": "quantitative"},
    "y": {"field": "d", "type": "quantitative"},
    "shape": {"field": "s", "type": "nominal", "legend": null},
    "fill": {"field": "s", "type": "nominal", "legend": null},
    "stroke": {"field": "s", "type": "nominal", "legend": null},
    "size": {"field": "s", "type": "nominal", "legend": null}
   }},
  {"data": {"values": [{}]}, "mark": {"type": "rect", "fill": "#fff", "stroke": "#000", "strokeWidth": 1}, "encoding": {"x": {"datum": 20.986, "type": "quantitative"}, "x2": {"datum": 21.874}, "y": {"datum": -2.55, "type": "quantitative"}, "y2": {"datum": -1.14}}},
  {"data": {"values": [{}]}, "mark": {"type": "text", "text": "R1 年度", "fontSize": 23}, "encoding": {"x": {"datum": 21.43, "type": "quantitative"}, "y": {"datum": -1.85, "type": "quantitative"}}},
  {"data": {"values": [{}]}, "mark": {"type": "text", "text": "令和元年8月27日調査", "fontSize": 18}, "encoding": {"x": {"datum": 23.52, "type": "quantitative"}, "y": {"datum": -1.95, "type": "quantitative"}}},
  {"data": {"values": [{}]}, "mark": {"type": "rect", "fill": "#fff", "stroke": "#000", "strokeWidth": 1}, "encoding": {"x": {"datum": 21.107, "type": "quantitative"}, "x2": {"datum": 21.874}, "y": {"datum": 6.52, "type": "quantitative"}, "y2": {"datum": 9.35}}},
  {"data": {"values": [{}]}, "mark": {"type": "text", "text": "温排水放水後", "fontSize": 20}, "encoding": {"x": {"datum": 21.49, "type": "quantitative"}, "y": {"datum": 7.33, "type": "quantitative"}}},
  {"data": {"values": [{}]}, "mark": {"type": "text", "text": "定期検査中", "fontSize": 20}, "encoding": {"x": {"datum": 21.49, "type": "quantitative"}, "y": {"datum": 8.74, "type": "quantitative"}}}
 ]}
]}
]},
{"hconcat": [
{"width": 657, "height": 337, "data": {"name": "prof"},
 "layer": [
  {"data": {"values": [{}]}, "mark": {"type": "rule", "color": "#000", "strokeWidth": 1}, "encoding": {"y": {"datum": 5, "type": "quantitative"}}},
  {"transform": [{"filter": "datum.p === 'R2'"}], "mark": {"type": "line"},
   "encoding": {
    "x": {"field": "t", "type": "quantitative", "scale": {"domain": [19, 22], "nice": false, "zero": false}, "axis": {"orient": "top", "values": [19,19.2,19.4,19.6,19.8,20,20.2,20.4,20.6,20.8,21,21.2,21.4,21.6,21.8,22], "labelExpr": "datum.value == round(datum.value) ? format(datum.value, '.1f') : ''", "labelPadding": 13, "title": "水温(℃)", "titlePadding": 20, "grid": true}},
    "y": {"field": "d", "type": "quantitative", "scale": {"domain": [0, 10], "reverse": true, "nice": false, "zero": false}, "axis": {"values": [0,1,2,3,4,5,6,7,8,9,10], "labelExpr": "datum.value % 5 == 0 ? datum.label : ''", "labelPadding": 14, "title": "水深(m)", "titlePadding": 8, "grid": true}},
    "order": {"field": "d", "type": "quantitative"},
    "color": {"field": "s", "type": "nominal", "legend": null},
    "strokeDash": {"field": "s", "type": "nominal", "legend": null},
    "strokeWidth": {"field": "s", "type": "nominal", "legend": null}
   }},
  {"transform": [{"filter": "datum.p === 'R2'"}], "mark": {"type": "point", "filled": true, "opacity": 1, "strokeWidth": 1},
   "encoding": {
    "x": {"field": "t", "type": "quantitative"},
    "y": {"field": "d", "type": "quantitative"},
    "shape": {"field": "s", "type": "nominal", "legend": null},
    "fill": {"field": "s", "type": "nominal", "legend": null},
    "stroke": {"field": "s", "type": "nominal", "legend": null},
    "size": {"field": "s", "type": "nominal", "legend": null}
   }},
  {"data": {"values": [{}]}, "mark": {"type": "rect", "fill": "#fff", "stroke": "#000", "strokeWidth": 1}, "encoding": {"x": {"datum": 19.009, "type": "quantitative"}, "x2": {"datum": 19.885}, "y": {"datum": -2.52, "type": "quantitative"}, "y2": {"datum": -1.14}}},
  {"data": {"values": [{}]}, "mark": {"type": "text", "text": "R2 年度", "fontSize": 23}, "encoding": {"x": {"datum": 19.447, "type": "quantitative"}, "y": {"datum": -1.84, "type": "quantitative"}}},
  {"data": {"values": [{}]}, "mark": {"type": "text", "text": "令和2年8月6日調査", "fontSize": 18}, "encoding": {"x": {"datum": 21.477, "type": "quantitative"}, "y": {"datum": -1.96, "type": "quantitative"}}},
  {"data": {"values": [{}]}, "mark": {"type": "rect", "fill": "#fff", "stroke": "#000", "strokeWidth": 1}, "encoding": {"x": {"datum": 20.913, "type": "quantitative"}, "x2": {"datum": 21.844}, "y": {"datum": 6.53, "type": "quantitative"}, "y2": {"datum": 9.35}}},
  {"data": {"values": [{}]}, "mark": {"type": "text", "text": "温排水放水後", "fontSize": 20}, "encoding": {"x": {"datum": 21.378, "type": "quantitative"}, "y": {"datum": 7.27, "type": "quantitative"}}},
  {"data": {"values": [{}]}, "mark": {"type": "text", "text": "定期事業者検査中", "fontSize": 20}, "encoding": {"x": {"datum": 21.378, "type": "quantitative"}, "y": {"datum": 8.72, "type": "quantitative"}}}
 ]}
]}
]},
{"width": 1, "height": 1, "view": {"stroke": null},
 "data": {"values": []},
 "mark": {"type": "point", "filled": true, "opacity": 1},
 "encoding": {
  "shape": {"field": "s", "type": "nominal", "scale": {"domain": ["St.17","St.18","St.19","St.20","St.21","St.22","St.23","St.24","St.25","St.26","St.27","St.28","St.29","St.30","St.31","St.32","St.33","St.34","St.35"], "range": [
"M-0.94,0H0.26M0.86,0H2.06M0.29,0.22L0.56,-0.26L0.83,0.22Z",
"M-0.75,0H0.15M0.97,0H1.87M0.29,0.22L0.56,-0.26L0.83,0.22Z",
"M-0.85,0H-0.7M-0.4,0H-0.25M0.05,0H0.2M0.92,0H1.07M1.37,0H1.52M1.82,0H1.97M0.29,0.22L0.56,-0.26L0.83,0.22Z",
"M-0.94,0H0.26M0.95,0H1.5M0.29,0.22L0.56,-0.26L0.83,0.22Z",
"M-0.94,0H0.26M0.86,0H2.06M0.35,-0.21H0.77V0.21H0.35Z",
"M-0.94,0H0.24M0.88,0H2.06M0.24,0A0.32,0.32,0,1,0,0.88,0A0.32,0.32,0,1,0,0.24,0Z",
"M-0.94,0H0.21M0.95,0H1.55M0.24,0A0.32,0.32,0,1,0,0.88,0A0.32,0.32,0,1,0,0.24,0Z",
"M-0.75,0H0.15M0.97,0H1.87M0.35,-0.21H0.77V0.21H0.35Z",
"M-0.85,0H-0.7M-0.4,0H-0.25M0.05,0H0.2M0.92,0H1.07M1.37,0H1.52M1.82,0H1.97M0.35,-0.21H0.77V0.21H0.35Z",
"M-0.94,0H0.26M0.95,0H1.5M0.35,-0.21H0.77V0.21H0.35Z",
"M-0.94,0H0.26M1.05,0H1.25M0.35,-0.21H0.77V0.21H0.35Z",
"M-0.94,0H0.26M0.86,0H2.06M0.35,-0.21H0.77V0.21H0.35Z",
"M-0.94,0H0.26M0.86,0H2.06M0.56,-0.28L0.8,0L0.56,0.28L0.32,0Z",
"M-0.94,0H0.26M0.86,0H2.06M0.35,-0.21H0.77V0.21H0.35Z",
"M-0.75,0H0.15M0.97,0H1.87M0.56,-0.28L0.8,0L0.56,0.28L0.32,0Z",
"M-0.85,0H-0.7M-0.4,0H-0.25M0.05,0H0.2M0.92,0H1.07M1.37,0H1.52M1.82,0H1.97M0.56,-0.28L0.8,0L0.56,0.28L0.32,0Z",
"M-0.94,0H0.26M0.95,0H1.5M0.56,-0.28L0.8,0L0.56,0.28L0.32,0Z",
"M-0.94,0H0.26M1.05,0H1.25M0.56,-0.28L0.8,0L0.56,0.28L0.32,0Z",
"M-0.94,0H0.26M0.86,0H2.06M0.56,-0.28L0.8,0L0.56,0.28L0.32,0Z"]},
   "legend": {"orient": "none", "legendX": 201.5, "legendY": 38, "direction": "horizontal", "columns": 7, "title": null, "labelFont": "Liberation Sans", "labelFontSize": 24, "labelFontWeight": "bold", "labelColor": "#000", "labelOffset": 25, "columnPadding": 5.3, "rowPadding": 14, "gridAlign": "all", "padding": 5, "strokeColor": "#000", "fillColor": "#fff", "symbolOpacity": 1}},
  "fill": {"field": "s", "type": "nominal", "scale": {"domain": ["St.17","St.18","St.19","St.20","St.21","St.22","St.23","St.24","St.25","St.26","St.27","St.28","St.29","St.30","St.31","St.32","St.33","St.34","St.35"], "range": ["#fff","#fff","#fff","#fff","#fff","#000","#000","#fff","#fff","#fff","#fff","#fff","#fff","#fff","#fff","#fff","#fff","#fff","#fff"]}},
  "stroke": {"field": "s", "type": "nominal", "scale": {"domain": ["St.17","St.18","St.19","St.20","St.21","St.22","St.23","St.24","St.25","St.26","St.27","St.28","St.29","St.30","St.31","St.32","St.33","St.34","St.35"], "range": ["#000","#000","#000","#000","#000","#000","#000","#000","#000","#000","#000","#808080","#000","#707070","#000","#000","#000","#000","#808080"]}},
  "size": {"field": "s", "type": "nominal", "scale": {"domain": ["St.17","St.18","St.19","St.20","St.21","St.22","St.23","St.24","St.25","St.26","St.27","St.28","St.29","St.30","St.31","St.32","St.33","St.34","St.35"], "range": [1024,1024,1024,1024,1024,1024,1024,1024,1024,1024,1024,1024,1024,1024,1024,1024,1024,1024,1024]}},
  "strokeWidth": {"field": "s", "type": "nominal", "scale": {"domain": ["St.17","St.18","St.19","St.20","St.21","St.22","St.23","St.24","St.25","St.26","St.27","St.28","St.29","St.30","St.31","St.32","St.33","St.34","St.35"], "range": [1.5,1.5,1.5,1.5,1.5,3,3,1.5,1.5,1.5,1.5,1.5,1.5,1.5,1.5,1.5,1.5,1.5,1.5]}}
 }}
]
}
